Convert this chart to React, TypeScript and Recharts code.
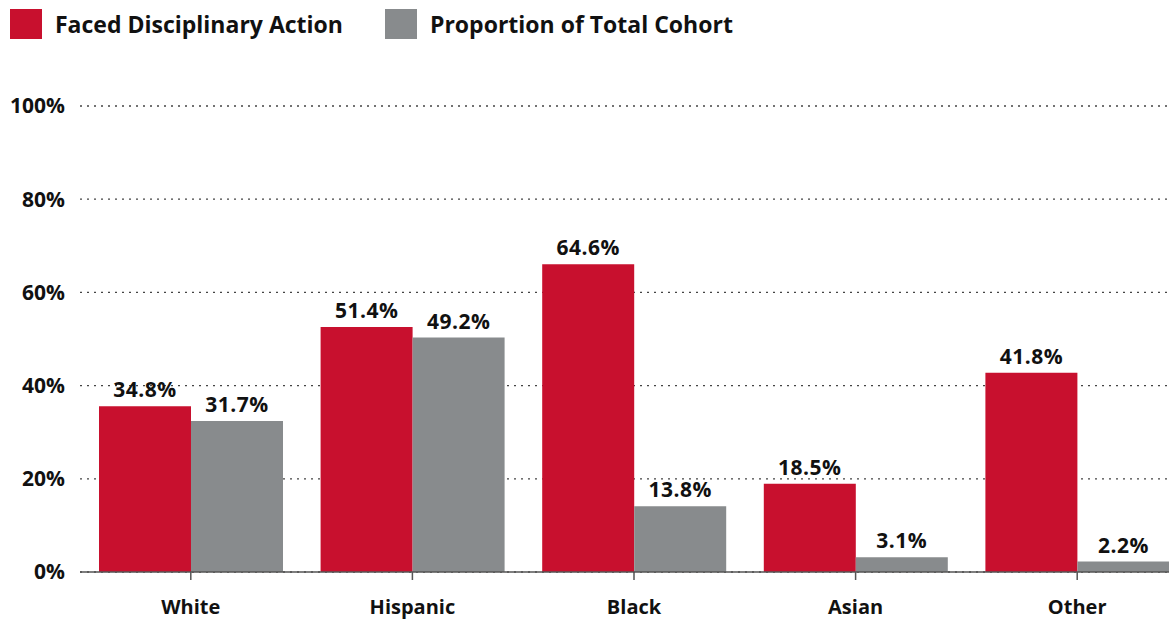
import { ComposedChart, Bar, Line, XAxis, YAxis, CartesianGrid, LabelList } from "recharts";

const categories = ["White", "Hispanic", "Black", "Asian", "Other"];
const disciplined = [34.8, 51.4, 64.6, 18.5, 41.8];
const cohort = [31.7, 49.2, 13.8, 3.1, 2.2];
const yTicks = [0, 20, 40, 60, 80, 100];

const RED = "#c8102e";
const GRAY = "#888b8d";
const FONT = "'Open Sans', sans-serif";

const data = categories.map((name, i) => ({
  name,
  disciplined: disciplined[i],
  cohort: cohort[i],
}));

const legendItems = [
  { label: "Faced Disciplinary Action", color: RED },
  { label: "Proportion of Total Cohort", color: GRAY },
];

const fmt = (v: number) => `${v.toFixed(1)}%`;
const labelStyle = { fill: "#111", fontSize: 21, fontWeight: 700, fontFamily: FONT, letterSpacing: 0.5 };

export default function App() {
  return (
    <div
      style={{
        position: "absolute",
        top: 0,
        left: 0,
        width: 1169,
        height: 619,
        overflow: "hidden",
        background: "#fff",
        fontFamily: FONT,
      }}
    >
      <div style={{ position: "absolute", top: 8, left: 10, display: "flex" }}>
        {legendItems.map((item) => (
          <div key={item.label} style={{ display: "flex", alignItems: "center", marginRight: 42 }}>
            <div style={{ width: 32, height: 30, background: item.color, marginRight: 13 }} />
            <span style={{ fontSize: 23, fontWeight: 700, color: "#111" }}>{item.label}</span>
          </div>
        ))}
      </div>
      <ComposedChart
        width={1190}
        height={619}
        data={data}
        margin={{ top: 106, right: 2, bottom: 0, left: 0 }}
        barGap={0}
        barSize={92}
      >
        <CartesianGrid
          yAxisId="pct"
          vertical={false}
          stroke="#444"
          strokeDasharray="2 5"
          strokeWidth={1.3}
        />
        <XAxis
          dataKey="name"
          height={47}
          axisLine={{ stroke: "#555", strokeWidth: 1.5 }}
          tickLine={{ stroke: "#555", strokeWidth: 1.5 }}
          tickSize={8}
          tick={{ fill: "#111", fontSize: 20, fontWeight: 700, fontFamily: FONT }}
          tickMargin={20}
        />
        <YAxis
          yAxisId="pct"
          domain={[0, 100]}
          ticks={yTicks}
          width={80}
          axisLine={false}
          tickLine={false}
          tickMargin={9}
          tickFormatter={(v) => `${v}%`}
          tick={{ fill: "#111", fontSize: 21, fontWeight: 700, fontFamily: FONT }}
        />
        <YAxis yAxisId="bars" orientation="right" width={0} domain={[0, 97.8]} hide />
        {/* invisible series so the visible percent axis is bound to data */}
        <Line
          yAxisId="pct"
          dataKey="disciplined"
          stroke="none"
          dot={false}
          activeDot={false}
          isAnimationActive={false}
        />
        <Bar yAxisId="bars" dataKey="disciplined" fill={RED} isAnimationActive={false}>
          <LabelList dataKey="disciplined" position="top" offset={9} formatter={fmt} style={labelStyle} />
        </Bar>
        <Bar yAxisId="bars" dataKey="cohort" fill={GRAY} isAnimationActive={false}>
          <LabelList dataKey="cohort" position="top" offset={9} formatter={fmt} style={labelStyle} />
        </Bar>
      </ComposedChart>
    </div>
  );
}
